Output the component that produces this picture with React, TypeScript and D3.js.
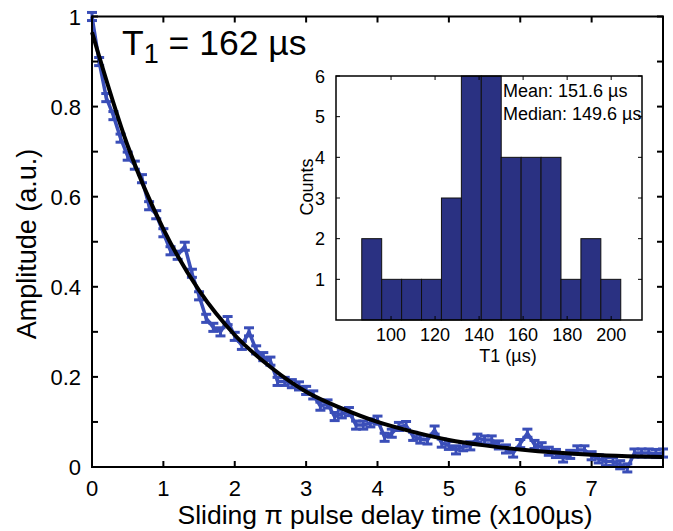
import { useEffect, useRef } from "react";
import * as d3 from "d3";

const W = 673;
const H = 531;
const FONT = "'Liberation Sans', Arial, Helvetica, sans-serif";

// main plot: sliding pi pulse delay (x100 us) vs amplitude
const delay = [
  0.0, 0.1, 0.2, 0.3, 0.4, 0.5, 0.6, 0.7, 0.8, 0.9,
  1.0, 1.1, 1.2, 1.3, 1.4, 1.5, 1.6, 1.7, 1.8, 1.9,
  2.0, 2.1, 2.2, 2.3, 2.4, 2.5, 2.6, 2.7, 2.8, 2.9,
  3.0, 3.1, 3.2, 3.3, 3.4, 3.5, 3.6, 3.7, 3.8, 3.9,
  4.0, 4.1, 4.2, 4.3, 4.4, 4.5, 4.6, 4.7, 4.8, 4.9,
  5.0, 5.1, 5.2, 5.3, 5.4, 5.5, 5.6, 5.7, 5.8, 5.9,
  6.0, 6.1, 6.2, 6.3, 6.4, 6.5, 6.6, 6.7, 6.8, 6.9,
  7.0, 7.1, 7.2, 7.3, 7.4, 7.5, 7.6, 7.7, 7.8, 7.9, 8.0,
];
const amplitude = [
  1.0, 0.9, 0.82, 0.78, 0.73, 0.69, 0.67, 0.64, 0.58, 0.56,
  0.52, 0.48, 0.47, 0.49, 0.43, 0.38, 0.33, 0.31, 0.3, 0.325,
  0.29, 0.27, 0.3, 0.26, 0.245, 0.235, 0.19, 0.19, 0.185, 0.18,
  0.17, 0.16, 0.135, 0.14, 0.112, 0.118, 0.123, 0.093, 0.093, 0.098,
  0.104, 0.066, 0.075, 0.09, 0.092, 0.068, 0.062, 0.06, 0.082, 0.053,
  0.048, 0.038, 0.045, 0.047, 0.064, 0.06, 0.06, 0.049, 0.04, 0.031,
  0.052, 0.075, 0.05, 0.045, 0.035, 0.03, 0.02, 0.028, 0.038, 0.038,
  0.025, 0.018, 0.012, 0.012, 0.005, -0.002, 0.031, 0.031, 0.031, 0.03, 0.031,
];
const ampError = 0.009;

// exponential fit
const fitDelay = [0, 0.5, 1, 1.5, 2, 2.5, 3, 3.5, 4, 4.5, 5, 5.5, 6, 6.5, 7, 7.5, 8];
const fitAmp = [0.965, 0.713, 0.528, 0.392, 0.293, 0.222, 0.167, 0.13, 0.1, 0.078, 0.06, 0.048, 0.039, 0.032, 0.027, 0.024, 0.022];

const xTicks = [0, 1, 2, 3, 4, 5, 6, 7];
const yTicks = [0, 0.1, 0.2, 0.3, 0.4, 0.5, 0.6, 0.7, 0.8, 0.9, 1];
const yLabels = [0, 0.2, 0.4, 0.6, 0.8, 1];

// inset histogram of T1 values
const binEdges = [86.7, 95.75, 104.8, 113.85, 122.9, 131.95, 141.0, 150.05, 159.1, 168.15, 177.2, 186.25, 195.3, 204.35];
const binCounts = [2, 1, 1, 1, 3, 6, 6, 4, 4, 4, 1, 2, 1];
const histXTicks = [100, 120, 140, 160, 180, 200];
const histYTicks = [1, 2, 3, 4, 5, 6];

const BLUE = "#3a4eb8";
const NAVY = "#2a3182";

function draw(svgEl: SVGSVGElement) {
  const svg = d3.select(svgEl);
  svg.selectAll("*").remove();

  const m = { left: 92, top: 16.5, right: 663, bottom: 467 };
  const x = d3.scaleLinear().domain([0, 8]).range([m.left, m.right]);
  const y = d3.scaleLinear().domain([0, 1]).range([m.bottom, m.top]);

  svg.append("rect").attr("width", W).attr("height", H).attr("fill", "#fff");

  const g = svg.append("g");

  // error bars
  const capW = 5;
  delay.forEach((t, i) => {
    const a = amplitude[i];
    const cx = x(t);
    const y0 = y(a - ampError);
    const y1 = y(a + ampError);
    g.append("line").attr("x1", cx).attr("x2", cx).attr("y1", y0).attr("y2", y1)
      .attr("stroke", BLUE).attr("stroke-width", 3);
    [y0, y1].forEach(yy => {
      g.append("line").attr("x1", cx - capW).attr("x2", cx + capW).attr("y1", yy).attr("y2", yy)
        .attr("stroke", BLUE).attr("stroke-width", 3);
    });
  });

  const dataLine = d3.line<number>()
    .x((_, i) => x(delay[i]))
    .y(d => y(d));
  g.append("path")
    .attr("d", dataLine(amplitude))
    .attr("fill", "none")
    .attr("stroke", BLUE)
    .attr("stroke-width", 3.5)
    .attr("stroke-linejoin", "round");

  const fitLine = d3.line<number>()
    .x((_, i) => x(fitDelay[i]))
    .y(d => y(d))
    .curve(d3.curveMonotoneX);
  g.append("path")
    .attr("d", fitLine(fitAmp))
    .attr("fill", "none")
    .attr("stroke", "#000")
    .attr("stroke-width", 4);

  // frame + inward ticks
  svg.append("rect")
    .attr("x", m.left).attr("y", m.top)
    .attr("width", m.right - m.left).attr("height", m.bottom - m.top)
    .attr("fill", "none").attr("stroke", "#000").attr("stroke-width", 2);

  const tl = 6;
  xTicks.forEach(t => {
    const px = x(t);
    svg.append("line").attr("x1", px).attr("x2", px).attr("y1", m.bottom).attr("y2", m.bottom - tl)
      .attr("stroke", "#000").attr("stroke-width", 2);
    svg.append("line").attr("x1", px).attr("x2", px).attr("y1", m.top).attr("y2", m.top + tl)
      .attr("stroke", "#000").attr("stroke-width", 2);
    svg.append("text").attr("x", px).attr("y", 496)
      .attr("text-anchor", "middle").style("font-family", FONT).style("font-size", "22px")
      .text(String(t));
  });
  yTicks.forEach(v => {
    const py = y(v);
    svg.append("line").attr("x1", m.left).attr("x2", m.left + tl).attr("y1", py).attr("y2", py)
      .attr("stroke", "#000").attr("stroke-width", 2);
    svg.append("line").attr("x1", m.right).attr("x2", m.right - tl).attr("y1", py).attr("y2", py)
      .attr("stroke", "#000").attr("stroke-width", 2);
  });
  yLabels.forEach(v => {
    svg.append("text").attr("x", 81).attr("y", y(v) + 8)
      .attr("text-anchor", "end").style("font-family", FONT).style("font-size", "22px")
      .text(String(v));
  });

  svg.append("text").attr("x", 385).attr("y", 524)
    .attr("text-anchor", "middle").style("font-family", FONT).style("font-size", "26.5px")
    .text("Sliding \u03c0 pulse delay time (x100\u00b5s)");
  svg.append("text").attr("transform", "translate(36,244) rotate(-90)")
    .attr("text-anchor", "middle").style("font-family", FONT).style("font-size", "27px")
    .text("Amplitude (a.u.)");

  const title = svg.append("text").attr("x", 122).attr("y", 55)
    .style("font-family", FONT).style("font-size", "35.5px");
  title.append("tspan").text("T");
  title.append("tspan").attr("dy", 8).style("font-size", "27px").text("1");
  title.append("tspan").attr("dy", -8).text(" = 162 \u00b5s");

  // inset
  const im = { left: 336, top: 76, right: 642, bottom: 320 };
  const hx = d3.scaleLinear().domain([75, 214]).range([im.left, im.right]);
  const hy = d3.scaleLinear().domain([0, 6]).range([im.bottom, im.top]);
  const ig = svg.append("g");
  ig.append("rect")
    .attr("x", im.left).attr("y", im.top)
    .attr("width", im.right - im.left).attr("height", im.bottom - im.top)
    .attr("fill", "#fff");

  ig.selectAll(".bar")
    .data(binCounts)
    .enter()
    .append("rect")
    .attr("x", (_, i) => hx(binEdges[i]))
    .attr("width", (_, i) => hx(binEdges[i + 1]) - hx(binEdges[i]))
    .attr("y", d => hy(d))
    .attr("height", d => hy(0) - hy(d))
    .attr("fill", NAVY)
    .attr("stroke", "#111")
    .attr("stroke-width", 1);

  ig.append("rect")
    .attr("x", im.left).attr("y", im.top)
    .attr("width", im.right - im.left).attr("height", im.bottom - im.top)
    .attr("fill", "none").attr("stroke", "#000").attr("stroke-width", 1.5);

  const itl = 4;
  const fs = "18px";
  histXTicks.forEach(t => {
    const px = hx(t);
    ig.append("line").attr("x1", px).attr("x2", px).attr("y1", im.bottom).attr("y2", im.bottom - itl)
      .attr("stroke", "#000").attr("stroke-width", 1);
    ig.append("line").attr("x1", px).attr("x2", px).attr("y1", im.top).attr("y2", im.top + itl)
      .attr("stroke", "#000").attr("stroke-width", 1);
    ig.append("text").attr("x", px).attr("y", 341)
      .attr("text-anchor", "middle").style("font-family", FONT).style("font-size", fs)
      .text(String(t));
  });
  histYTicks.forEach(v => {
    const py = hy(v);
    ig.append("line").attr("x1", im.left).attr("x2", im.left + itl).attr("y1", py).attr("y2", py)
      .attr("stroke", "#000").attr("stroke-width", 1);
    ig.append("line").attr("x1", im.right).attr("x2", im.right - itl).attr("y1", py).attr("y2", py)
      .attr("stroke", "#000").attr("stroke-width", 1);
    ig.append("text").attr("x", 325).attr("y", py + 6.5)
      .attr("text-anchor", "end").style("font-family", FONT).style("font-size", fs)
      .text(String(v));
  });

  ig.append("text").attr("x", 508).attr("y", 362)
    .attr("text-anchor", "middle").style("font-family", FONT).style("font-size", fs)
    .text("T1 (\u00b5s)");
  ig.append("text").attr("transform", "translate(313,187) rotate(-90)")
    .attr("text-anchor", "middle").style("font-family", FONT).style("font-size", fs)
    .text("Counts");
  ig.append("text").attr("x", 503).attr("y", 97)
    .style("font-family", FONT).style("font-size", fs)
    .text("Mean: 151.6 \u00b5s");
  ig.append("text").attr("x", 503).attr("y", 120)
    .style("font-family", FONT).style("font-size", fs)
    .text("Median: 149.6 \u00b5s");
}

export default function App() {
  const ref = useRef<SVGSVGElement>(null);
  useEffect(() => {
    if (ref.current) draw(ref.current);
  }, []);
  return (
    <div style={{ position: "absolute", left: 0, top: 0 }}>
      <svg ref={ref} width={W} height={H} style={{ display: "block" }} />
    </div>
  );
}
